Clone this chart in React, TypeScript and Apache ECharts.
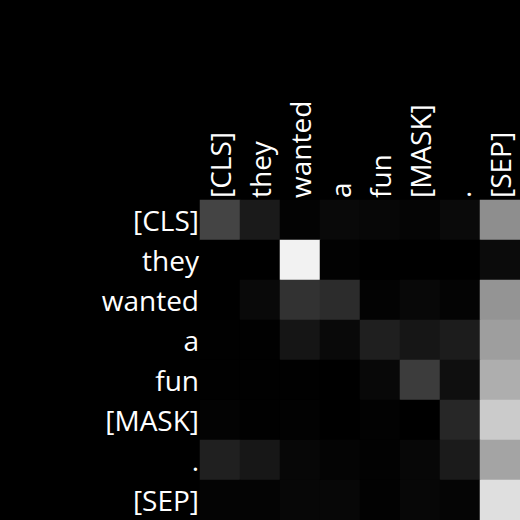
import React, { useEffect, useRef } from "react";
import * as echarts from "echarts";

const tokens = ["[CLS]", "they", "wanted", "a", "fun", "[MASK]", ".", "[SEP]"];

// attention weights per row (query token) over columns (key token)
const rowCLS = [0.267, 0.102, 0.012, 0.035, 0.027, 0.02, 0.039, 0.557];
const rowThey = [0.0, 0.0, 0.949, 0.008, 0.0, 0.0, 0.0, 0.043];
const rowWanted = [0.0, 0.035, 0.196, 0.173, 0.012, 0.031, 0.016, 0.58];
const rowA = [0.004, 0.004, 0.082, 0.035, 0.122, 0.086, 0.11, 0.62];
const rowFun = [0.004, 0.004, 0.004, 0.0, 0.031, 0.235, 0.059, 0.682];
const rowMask = [0.012, 0.004, 0.008, 0.0, 0.008, 0.0, 0.153, 0.796];
const rowDot = [0.125, 0.09, 0.027, 0.016, 0.008, 0.027, 0.106, 0.643];
const rowSEP = [0.016, 0.016, 0.027, 0.027, 0.008, 0.027, 0.02, 0.875];

const rows = [rowCLS, rowThey, rowWanted, rowA, rowFun, rowMask, rowDot, rowSEP];

export default function App() {
  const ref = useRef<HTMLDivElement>(null);
  useEffect(() => {
    if (!ref.current) return;
    const chart = echarts.init(ref.current, null, { renderer: "svg" });
    const data: [number, number, number][] = [];
    rows.forEach((r, yi) => r.forEach((v, xi) => data.push([xi, yi, v])));
    const font = "'Open Sans', 'Noto Sans', sans-serif";
    chart.setOption({
      animation: false,
      backgroundColor: "#000000",
      grid: { left: 200, top: 200, right: 0, bottom: 0 },
      xAxis: {
        type: "category",
        position: "top",
        data: tokens,
        axisLine: { show: false },
        axisTick: { show: false },
        splitLine: { show: false },
        axisLabel: {
          rotate: -90,
          color: "#ffffff",
          fontSize: 28,
          fontFamily: font,
          margin: 2,
          interval: 0,
        },
      },
      yAxis: {
        type: "category",
        inverse: true,
        data: tokens,
        axisLine: { show: false },
        axisTick: { show: false },
        splitLine: { show: false },
        axisLabel: {
          color: "#ffffff",
          fontSize: 28,
          fontFamily: font,
          margin: 1,
          interval: 0,
        },
      },
      visualMap: {
        show: false,
        min: 0,
        max: 1,
        dimension: 2,
        inRange: { color: ["#000000", "#ffffff"] },
      },
      series: [
        {
          type: "heatmap",
          data,
          itemStyle: { borderWidth: 0 },
          emphasis: { disabled: true },
        },
      ],
    });
    return () => chart.dispose();
  }, []);
  return (
    <div
      ref={ref}
      style={{ position: "fixed", left: 0, top: 0, width: 520, height: 520 }}
    />
  );
}
